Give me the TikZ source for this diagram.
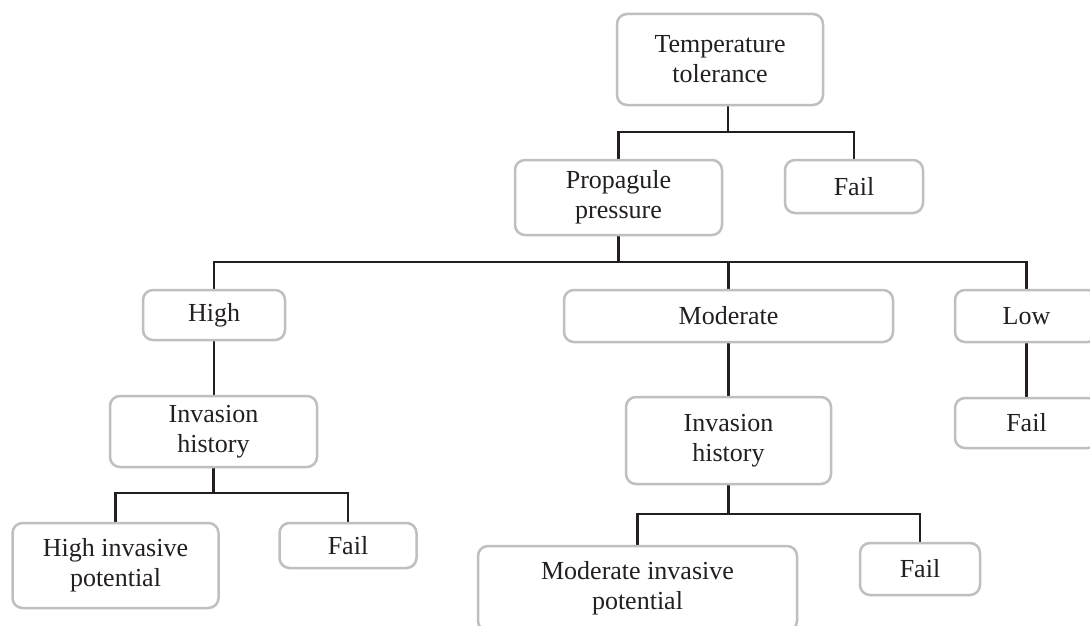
\documentclass[tikz,border=0pt]{standalone}
\usepackage{fontspec}
\setmainfont{Liberation Serif}
\usetikzlibrary{backgrounds,calc}
\definecolor{ink}{HTML}{231F20}
\definecolor{edgegray}{HTML}{BFBFC1}
\begin{document}
\begin{tikzpicture}[x=1pt,y=-1pt,
  box/.style={draw=edgegray, line width=2.5pt, rounded corners=10pt, fill=white,
    text=ink, align=center, inner sep=0pt, font=\fontsize{26}{30}\selectfont},
  sz/.style 2 args={minimum width=#1pt, minimum height=#2pt},
  conn/.style={draw=ink, line width=2.5pt}]
\useasboundingbox (0,0) rectangle (1090,626);
\clip (0,0) rectangle (1090,626);

% nodes
\node[box, sz={206}{91}] (temp)  at (720,59.5)   {Temperature\\tolerance};
\node[box, sz={207}{75}] (prop)  at (618.5,197.5) {Propagule\\pressure};
\node[box, sz={138}{53}] (fail1) at (854,186.5)  {Fail};
\node[box, sz={142}{50}] (high)  at (214,315)    {High};
\node[box, sz={329}{52}] (mod)   at (728.5,316)  {Moderate};
\node[box, sz={143}{52}] (low)   at (1026.5,316) {Low};
\node[box, sz={143}{50}] (fail4) at (1026.5,423) {Fail};
\node[box, sz={207}{71}] (invL)  at (213.5,431.5) {Invasion\\history};
\node[box, sz={205}{87}] (invM)  at (728.5,440.5) {Invasion\\history};
\node[box, sz={206}{85}] (hip)   at (115.5,565.5) {High invasive\\potential};
\node[box, sz={137}{45}] (failL) at (348,545.5)  {Fail};
\node[box, sz={319}{85}] (mip)   at (637.5,588.5) {Moderate invasive\\potential};
\node[box, sz={120}{52}] (failM) at (920,569)    {Fail};

\coordinate (b1) at (728,132);
\coordinate (b2) at (728,262);
\coordinate (b3) at (214,493);
\coordinate (b4) at (728,514);

\begin{pgfonlayer}{background}
  \fill[white] (0,0) rectangle (1090,626);
  % level 1
  \draw[conn] (temp.south -| b1) -- (b1);
  \draw[conn] (prop.north) -- (prop.north |- b1) -- (fail1.north |- b1) -- (fail1.north);
  % level 2
  \draw[conn] (prop.south) -- (prop.south |- b2);
  \draw[conn] (high.north) -- (high.north |- b2) -- (low.north |- b2) -- (low.north);
  \draw[conn] (mod.north) -- (mod.north |- b2);
  % high branch
  \draw[conn] (high.south) -- (high.south |- invL.north);
  \draw[conn] (invL.south) -- (invL.south |- b3);
  \draw[conn] (hip.north) -- (hip.north |- b3) -- (failL.north |- b3) -- (failL.north);
  % moderate branch
  \draw[conn] (mod.south) -- (mod.south |- invM.north);
  \draw[conn] (invM.south) -- (invM.south |- b4);
  \draw[conn] (mip.north) -- (mip.north |- b4) -- (failM.north |- b4) -- (failM.north);
  % low branch
  \draw[conn] (low.south) -- (low.south |- fail4.north);
\end{pgfonlayer}
\end{tikzpicture}
\end{document}
